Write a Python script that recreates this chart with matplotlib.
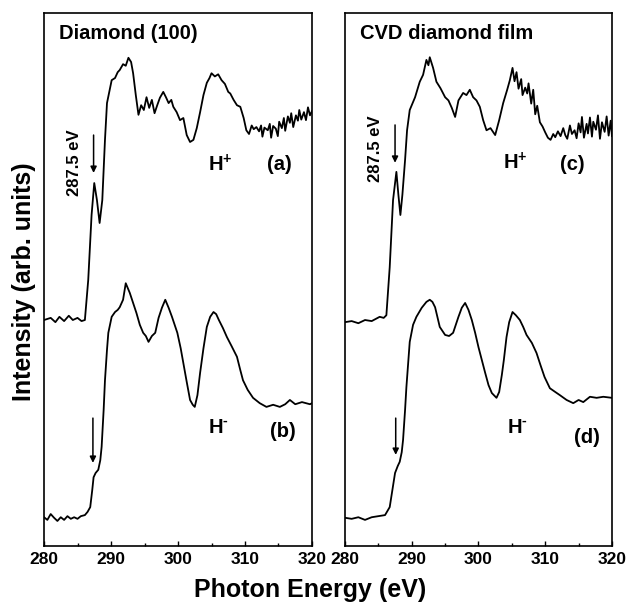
"""NEXAFS C K-edge spectra of hydrogenated diamond surfaces.

Two panels: single-crystal Diamond (100) and a CVD diamond film, each with
the H+ (upper) and H- (lower) spectrum, offset vertically.

Run:
    python plot.py
"""

import matplotlib
matplotlib.use("Agg")
import matplotlib.pyplot as plt
from matplotlib.ticker import MultipleLocator

plt.rcParams["font.family"] = ["Liberation Sans", "DejaVu Sans"]
plt.rcParams["mathtext.fontset"] = "custom"
plt.rcParams["mathtext.rm"] = "Liberation Sans:bold"
plt.rcParams["mathtext.bf"] = "Liberation Sans:bold"

# ── Data (photon energy in eV, intensity in arb. units with offset) ──────────
# (a) Diamond (100), H+
E_A = [280.0, 281.0, 281.7, 282.3, 283.0, 283.7, 284.3, 285.0, 285.6, 286.1,
       286.6, 287.1, 287.5, 287.9, 288.3, 288.7, 289.1, 289.4, 290.1, 290.6,
       291.0, 291.3, 291.8, 292.2, 292.6, 293.0, 293.3, 293.7, 294.1, 294.5,
       294.9, 295.3, 295.7, 296.1, 296.5, 296.9, 297.3, 297.8, 298.2, 298.6,
       299.0, 299.3, 299.8, 300.3, 300.8, 301.3, 301.8, 302.3, 302.8, 303.3,
       303.8, 304.3, 304.7, 305.0, 305.5, 306.0, 306.5, 307.0, 307.5, 307.8,
       308.3, 308.8, 309.3, 309.8,
       310.2, 310.6, 311.0, 311.3, 311.7, 312.1, 312.4, 312.6, 312.9, 313.4,
       313.7, 313.9, 314.2, 314.6, 314.9, 315.1, 315.5, 315.8, 316.0, 316.4,
       316.7, 316.9, 317.2, 317.6, 317.9, 318.1, 318.4, 318.8, 319.1, 319.4,
       319.7, 320.0]
I_A = [42.4, 42.8, 42.0, 43.0, 42.2, 43.2, 42.4, 42.8, 42.2, 42.4,
       49.9, 62.1, 68.1, 64.9, 60.6, 64.9, 76.2, 83.1, 87.4, 87.8,
       88.9, 89.3, 90.4, 90.1, 91.6, 90.8, 88.7, 84.6, 80.9, 82.7,
       81.8, 84.2, 82.2, 83.7, 81.2, 82.7, 84.1, 85.2, 84.2, 83.1,
       83.7, 82.4, 81.4, 79.9, 80.3, 77.1, 75.8, 76.2, 78.4, 81.4,
       84.6, 86.9, 87.8, 88.7, 88.1, 88.5, 87.4, 86.7, 85.2, 84.9,
       83.7, 82.7, 82.4, 80.3,
       78.0, 77.3, 78.9, 78.2, 78.6, 77.8, 78.9, 76.8, 78.5, 78.0,
       79.2, 76.6, 78.8, 78.3, 76.9, 79.6, 78.4, 80.3, 77.9, 80.6,
       79.4, 81.2, 78.6, 80.8, 79.8, 81.8, 80.0, 81.4, 79.9, 82.3,
       80.8, 81.6]

# (b) Diamond (100), H-
E_B = [280.0, 280.5, 281.0, 281.5, 282.0, 282.5, 283.0, 283.5, 284.0, 284.5,
       285.0, 285.5, 286.1, 286.5, 286.9, 287.2, 287.4, 287.7, 288.1, 288.4,
       288.6, 288.9, 289.1, 289.4, 289.6, 290.1, 290.6, 291.0, 291.3, 291.8,
       292.2, 292.5, 292.8, 293.3, 293.8, 294.3, 294.8, 295.2, 295.6, 296.1,
       296.6, 297.1, 297.6, 298.1, 298.6, 299.1, 299.5, 299.9, 300.4, 300.8,
       301.3, 301.8, 302.2, 302.5, 302.9, 303.3, 303.8, 304.3, 304.8, 305.3,
       305.7, 306.1, 306.7, 307.3, 308.0, 308.8, 309.3, 309.7, 310.4, 311.2,
       312.2, 313.2, 314.2, 315.2, 316.0, 316.7, 317.5, 318.5, 319.7, 320.0]
I_B = [5.4, 4.9, 6.0, 5.3, 4.7, 5.4, 4.9, 5.6, 5.1, 5.4,
       5.1, 5.6, 5.8, 6.4, 7.3, 10.5, 12.9, 13.7, 14.3, 16.1,
       18.6, 25.5, 31.1, 36.8, 40.0, 43.0, 43.9, 44.3, 44.8, 46.2,
       49.3, 48.4, 47.5, 45.6, 43.7, 41.5, 40.0, 39.4, 38.3, 39.4,
       40.0, 42.8, 44.7, 46.2, 44.7, 43.0, 41.5, 40.0, 37.1, 34.3,
       30.8, 27.4, 26.5, 26.1, 28.3, 32.5, 37.1, 41.1, 43.0, 43.9,
       43.5, 42.4, 40.9, 39.2, 37.5, 35.5, 33.0, 31.1, 29.3, 27.8,
       26.8, 26.1, 26.5, 26.1, 26.6, 27.4, 26.6, 27.0, 26.6, 26.8]

# (c) CVD diamond film, H+
E_C = [280.0, 281.0, 282.0, 283.0, 284.0, 285.2, 285.8, 286.2, 286.7, 287.2,
       287.7, 288.0, 288.3, 288.6, 289.0, 289.3, 289.7, 290.5, 291.2, 291.7,
       292.2, 292.5, 292.7, 293.2, 293.7, 294.3, 295.0, 295.5, 296.0, 296.5,
       297.0, 297.7, 298.2, 298.7, 299.2, 299.7, 300.2, 300.7, 301.2, 301.8,
       302.5, 303.1, 303.7, 304.3, 304.7, 305.1,
       305.4, 305.7, 306.0, 306.4, 306.6, 307.0, 307.3, 307.5, 307.9, 308.2,
       308.5, 308.8, 309.2, 309.6, 310.0,
       310.4, 310.8, 311.2, 311.5, 311.9, 312.3, 312.7, 313.0, 313.3, 313.7,
       314.0, 314.4, 314.7, 315.0, 315.3, 315.5, 315.8, 316.2, 316.4, 316.7,
       317.0, 317.2, 317.6, 317.9, 318.2, 318.5, 318.9, 319.2, 319.5, 319.8,
       320.0]
I_C = [42.0, 42.2, 41.8, 42.4, 42.2, 43.0, 42.8, 43.3, 52.3, 64.9,
       70.2, 65.9, 62.1, 65.9, 72.4, 78.0, 81.8, 84.2, 87.1, 88.4,
       91.2, 90.2, 91.7, 89.7, 87.1, 85.9, 84.2, 83.6, 82.2, 80.5,
       83.6, 85.0, 84.6, 85.6, 84.2, 83.6, 82.4, 79.9, 78.0, 78.4,
       77.1, 79.9, 83.1, 85.6, 87.4, 89.7,
       87.2, 88.9, 85.8, 87.6, 84.6, 86.0, 84.9, 86.8, 83.0, 85.6,
       81.0, 82.6, 79.5, 78.7, 77.6,
       76.6, 76.2, 77.3, 76.7, 77.8, 76.9, 78.4, 77.1, 76.4, 78.9,
       77.3, 78.0, 76.5, 79.3, 77.6, 80.5, 76.6, 79.2, 77.4, 80.4,
       76.8, 79.6, 78.1, 80.8, 76.4, 79.5, 77.7, 80.6, 77.0, 79.8,
       76.9]

# (d) CVD diamond film, H-
E_D = [280.0, 281.0, 282.0, 283.0, 284.0, 285.0, 286.0, 286.7, 287.1, 287.5,
       287.9, 288.2, 288.5, 288.7, 289.0, 289.2, 289.5, 289.7, 290.2, 290.7,
       291.5, 292.2, 292.7, 293.1, 293.5, 294.2, 295.0, 295.6, 296.2, 297.0,
       297.5, 298.0, 298.5, 299.0, 299.5, 300.0, 300.5, 301.0, 301.5, 302.0,
       302.7, 303.1, 303.5, 303.8, 304.2, 304.6, 305.1, 305.6, 306.2, 306.7,
       307.2, 308.0, 308.7, 309.3, 309.9, 310.7, 311.5, 312.2, 313.2, 314.2,
       315.0, 315.7, 316.7, 317.7, 318.7, 320.0]
I_D = [5.3, 5.1, 5.4, 4.9, 5.4, 5.6, 5.8, 7.3, 10.5, 13.7,
       15.0, 15.8, 17.6, 19.9, 25.5, 29.8, 34.9, 38.3, 41.5, 43.0,
       44.7, 45.8, 46.2, 45.8, 44.8, 41.1, 39.6, 39.4, 40.0, 43.0,
       44.7, 45.6, 44.3, 42.4, 40.0, 37.3, 34.9, 32.5, 30.2, 28.7,
       27.8, 28.9, 32.1, 34.9, 39.2, 42.0, 43.9, 43.3, 42.4, 41.1,
       39.6, 38.1, 36.2, 33.9, 31.7, 29.6, 28.9, 28.3, 27.4, 26.8,
       27.4, 27.0, 28.0, 27.8, 28.0, 27.8]

TITLES = ["Diamond (100)", "CVD diamond film"]
PANEL_TAGS = [("(a)", "(b)"), ("(c)", "(d)")]
X_TICKS = [280, 290, 300, 310, 320]
PEAK_LABEL = "287.5 eV"


def _style_axes(ax):
    ax.set_xlim(280, 320)
    ax.set_ylim(0, 100)
    ax.set_xticks(X_TICKS)
    ax.xaxis.set_minor_locator(MultipleLocator(5))
    ax.set_yticks([])
    ax.tick_params(axis="x", which="major", direction="in", length=3.5,
                   width=1.0, labelsize=12.5, pad=4)
    ax.tick_params(axis="x", which="minor", direction="in", length=2.2, width=1.0)
    for lab in ax.get_xticklabels():
        lab.set_fontweight("bold")
    for sp in ax.spines.values():
        sp.set_linewidth(1.2)


def _arrow(ax, x, y_top, y_tip):
    ax.annotate("", xy=(x, y_tip), xytext=(x, y_top),
                arrowprops=dict(arrowstyle="-|>", color="black", lw=1.1,
                                mutation_scale=9, shrinkA=0, shrinkB=0))


def main():
    fig = plt.figure(figsize=(6.26, 6.02), dpi=100)
    ax_l = fig.add_axes([0.0703, 0.0930, 0.4281, 0.8854])
    ax_r = fig.add_axes([0.5511, 0.0930, 0.4265, 0.8854])

    lw = 1.3
    ax_l.plot(E_A, I_A, color="black", lw=lw)
    ax_l.plot(E_B, I_B, color="black", lw=lw)
    ax_r.plot(E_C, I_C, color="black", lw=lw)
    ax_r.plot(E_D, I_D, color="black", lw=lw)

    for ax, title in zip((ax_l, ax_r), TITLES):
        _style_axes(ax)
        ax.text(282.2, 96.1, title, fontsize=14.5, fontweight="bold",
                ha="left", va="center")

    # upper spectra: peak annotation + labels
    ax_l.text(284.5, 72.0, PEAK_LABEL, rotation=90, fontsize=12,
              fontweight="bold", ha="center", va="center")
    ax_r.text(284.6, 74.5, PEAK_LABEL, rotation=90, fontsize=12,
              fontweight="bold", ha="center", va="center")
    _arrow(ax_l, 287.4, 77.1, 70.0)
    _arrow(ax_l, 287.3, 24.0, 15.6)
    _arrow(ax_r, 287.5, 79.0, 71.9)
    _arrow(ax_r, 287.6, 24.0, 17.1)

    hp = r"$\mathbf{H}^{\mathbf{+}}$"
    hm = r"$\mathbf{H}^{\text{-}}$"
    kw = dict(fontsize=14.5, ha="center", va="center")
    ax_l.text(306.3, 71.5, hp, **kw)
    ax_l.text(315.2, 71.5, PANEL_TAGS[0][0], fontweight="bold", **kw)
    ax_l.text(306.0, 22.3, hm, **kw)
    ax_l.text(315.7, 21.4, PANEL_TAGS[0][1], fontweight="bold", **kw)
    ax_r.text(305.5, 71.9, hp, **kw)
    ax_r.text(314.0, 71.5, PANEL_TAGS[1][0], fontweight="bold", **kw)
    ax_r.text(305.9, 22.3, hm, **kw)
    ax_r.text(316.3, 20.3, PANEL_TAGS[1][1], fontweight="bold", **kw)

    fig.text(0.038, 0.532, "Intensity (arb. units)", rotation=90, fontsize=18,
             fontweight="bold", ha="center", va="center")
    fig.text(0.496, 0.008, "Photon Energy (eV)", fontsize=18,
             fontweight="bold", ha="center", va="baseline")

    fig.savefig("out.png", dpi=100)
    plt.close(fig)


if __name__ == "__main__":
    main()
